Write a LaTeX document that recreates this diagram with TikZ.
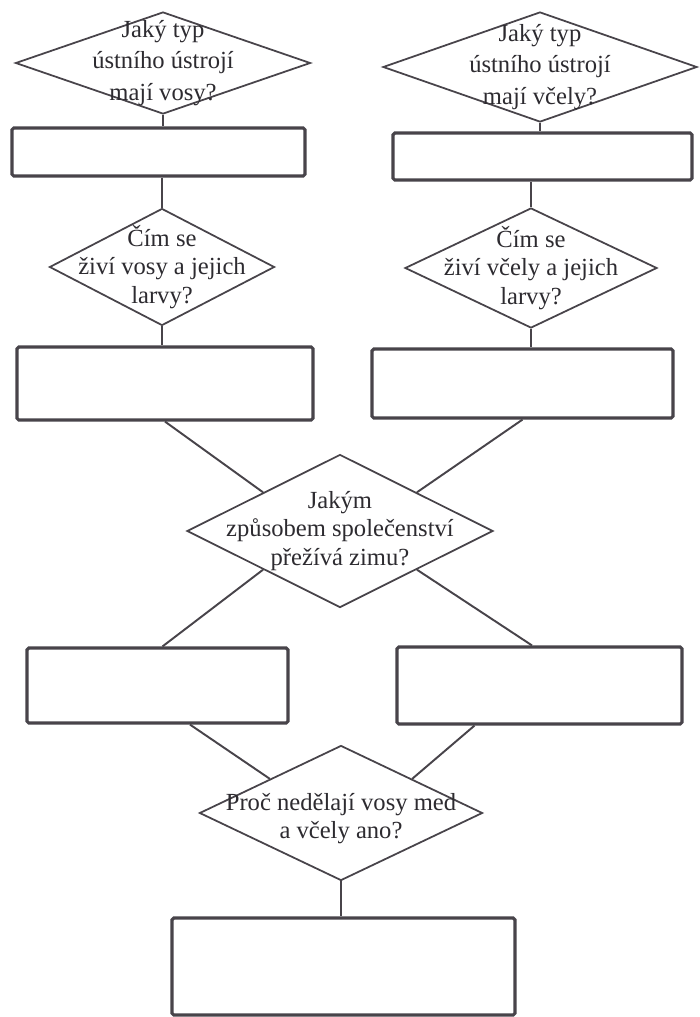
\documentclass[tikz,border=0pt]{standalone}
\usepackage{fontspec}
\setmainfont{Liberation Serif}
\usetikzlibrary{shapes.geometric}
\definecolor{inkgrey}{RGB}{72,68,74}
\definecolor{textgrey}{RGB}{45,43,48}

\begin{document}
\begin{tikzpicture}[
    decision/.style={draw=inkgrey, diamond, line width=1pt, inner sep=0pt},
    answer/.style={draw=inkgrey, rectangle, line width=1.8pt,
                   rounded corners=1pt, inner sep=0pt},
    qtext/.style={font=\fontsize{14}{16}\selectfont, text=textgrey,
                  align=center, inner sep=0pt},
    link/.style={draw=inkgrey, line width=1.1pt}
  ]
    \fill[white] (0,0) rectangle (14,-20.34);
    \useasboundingbox (0,0) rectangle (14,-20.34);

    %% Left column: wasps
    \node[decision, minimum width=5.9cm, minimum height=2.04cm,
      label={[qtext, font=\fontsize{14}{18}\selectfont]center:{Jaký typ\\ústního ústrojí\\mají vosy?}}]
      (qvosy1) at (3.26,-1.26) {};
    \node[answer, minimum width=5.86cm, minimum height=0.96cm] (avosy1) at (3.17,-3.04) {};
    \node[decision, minimum width=4.5cm, minimum height=2.34cm,
      label={[qtext]center:{Čím se\\živí vosy a jejich\\larvy?}}]
      (qvosy2) at (3.24,-5.34) {};
    \node[answer, minimum width=5.92cm, minimum height=1.46cm] (avosy2) at (3.3,-7.67) {};

    %% Right column: bees
    \node[decision, minimum width=6.28cm, minimum height=2.2cm,
      label={[qtext, font=\fontsize{14}{18}\selectfont]center:{Jaký typ\\ústního ústrojí\\mají včely?}}]
      (qvcely1) at (10.8,-1.34) {};
    \node[answer, minimum width=5.98cm, minimum height=0.94cm] (avcely1) at (10.85,-3.13) {};
    \node[decision, minimum width=5.04cm, minimum height=2.4cm,
      label={[qtext]center:{Čím se\\živí včely a jejich\\larvy?}}]
      (qvcely2) at (10.62,-5.36) {};
    \node[answer, minimum width=6.02cm, minimum height=1.38cm] (avcely2) at (10.45,-7.67) {};

    %% Winter
    \node[decision, minimum width=6.12cm, minimum height=3.06cm,
      label={[qtext]center:{Jakým\\způsobem společenství\\přežívá zimu?}}]
      (qzima) at (6.8,-10.62) {};
    \node[answer, minimum width=5.22cm, minimum height=1.5cm] (azimal) at (3.15,-13.71) {};
    \node[answer, minimum width=5.7cm, minimum height=1.54cm] (azimar) at (10.79,-13.71) {};

    %% Honey
    \node[decision, minimum width=5.66cm, minimum height=2.7cm,
      label={[qtext, yshift=-0.12cm]center:{Proč nedělají vosy med\\a včely ano?}}]
      (qmed) at (6.82,-16.26) {};
    \node[answer, minimum width=6.86cm, minimum height=1.94cm] (amed) at (6.87,-19.33) {};

    %% Connectors
    \draw[link] (qvosy1.south) -- (qvosy1.south |- avosy1.north);
    \draw[link] (qvosy2.north |- avosy1.south) -- (qvosy2.north);
    \draw[link] (qvosy2.south) -- (qvosy2.south |- avosy2.north);
    \draw[link] (qvcely1.south) -- (qvcely1.south |- avcely1.north);
    \draw[link] (qvcely2.north |- avcely1.south) -- (qvcely2.north);
    \draw[link] (qvcely2.south) -- (qvcely2.south |- avcely2.north);
    \draw[link] (avosy2.south) -- (qzima.north west);
    \draw[link] (avcely2.south) -- (qzima.north east);
    \draw[link] (qzima.south west) -- ([xshift=0.1cm]azimal.north);
    \draw[link] (qzima.south east) -- ([xshift=-0.15cm]azimar.north);
    \draw[link] ([xshift=0.65cm]azimal.south) -- (qmed.north west);
    \draw[link] ([xshift=-1.3cm]azimar.south) -- (qmed.north east);
    \draw[link] (qmed.south) -- (qmed.south |- amed.north);
  \end{tikzpicture}
\end{document}
